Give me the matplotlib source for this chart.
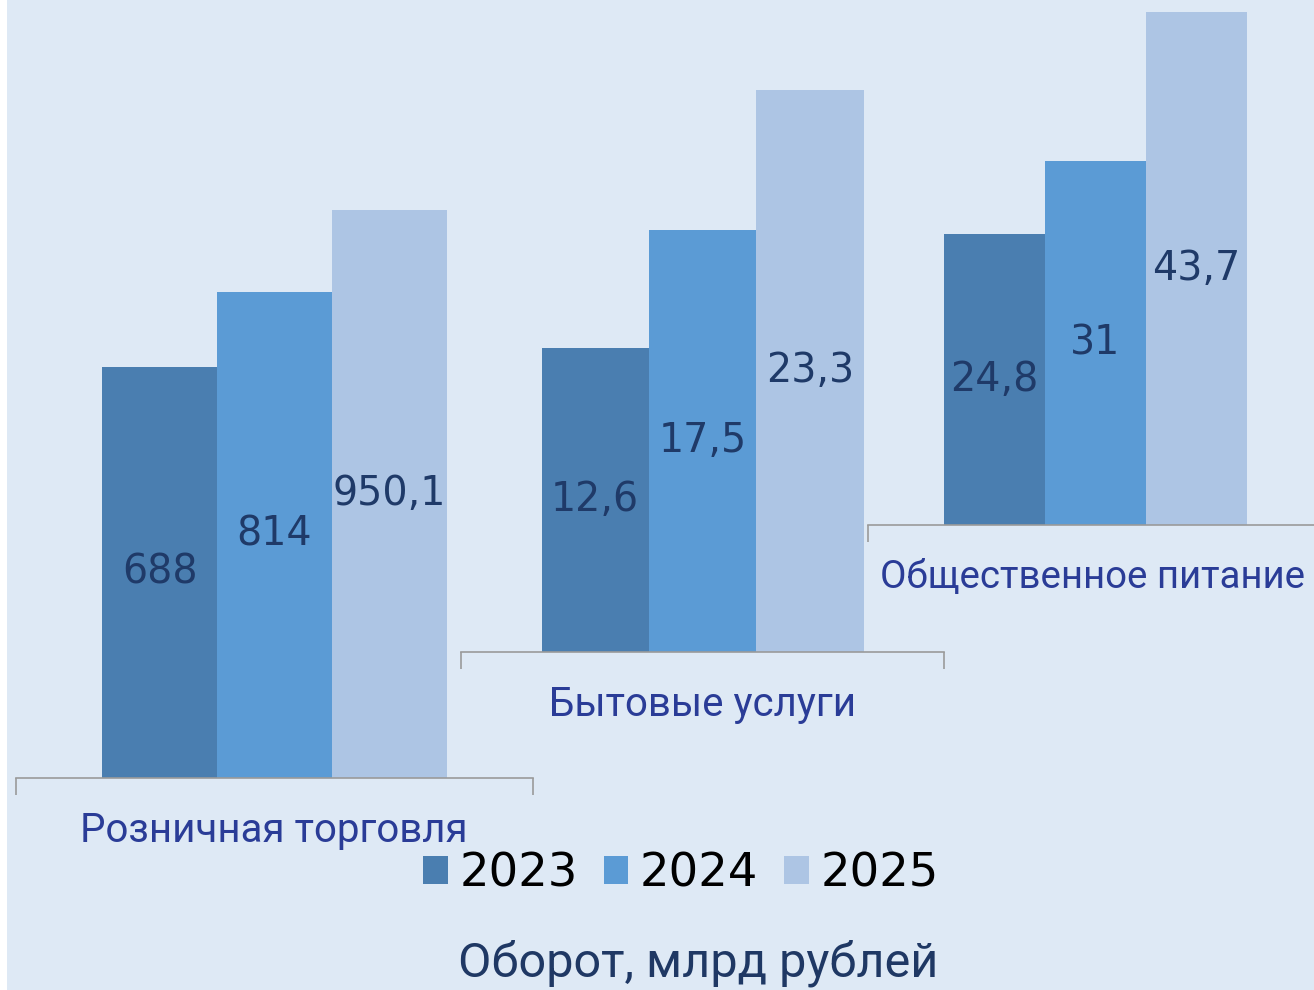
import matplotlib
matplotlib.use("Agg")
import matplotlib.pyplot as plt
from matplotlib.patches import Rectangle

plt.rcParams['font.family'] = ['Roboto', 'DejaVu Sans']

categories = ["Розничная торговля", "Бытовые услуги", "Общественное питание"]
years = ["2023", "2024", "2025"]
values = [
    [688, 814, 950.1],
    [12.6, 17.5, 23.3],
    [24.8, 31, 43.7],
]
value_labels = [
    ["688", "814", "950,1"],
    ["12,6", "17,5", "23,3"],
    ["24,8", "31", "43,7"],
]
title = "Оборот, млрд рублей"

colors = ["#4a7eb0", "#5b9bd5", "#adc5e4"]
bg = "#dee9f5"
W, H = 1314, 990

fig = plt.figure(figsize=(W / 100, H / 100), dpi=100)
fig.patch.set_facecolor("white")
fig.add_artist(Rectangle((7 / W, 0), 1, 1, transform=fig.transFigure,
                         facecolor=bg, edgecolor="none", zorder=-10))

# per-group layout in pixels: left, right, baseline, px per unit, label x centre, label size
layout = [
    (16, 533, 778, 411 / 688, 274, 29),
    (461, 944, 652, 304 / 12.6, 703, 29),
    (868, 1323, 525, 291 / 24.8, 1093, 27.6),
]

digit_font = ['DejaVu Sans']

handles = None
for gi, (l, r, base, ppu, lx, lfs) in enumerate(layout):
    ax = fig.add_axes([l / W, 1 - base / H, (r - l) / W, base / H])
    ax.set_facecolor("none")
    xs = [-1, 0, 1]
    bars = ax.bar(xs, values[gi], width=1.0, color=colors, zorder=2)
    if handles is None:
        handles = list(bars)
    ax.set_ylim(0, base / ppu)
    ax.set_xlim(-2.25, 2.25)
    for x, v, t in zip(xs, values[gi], value_labels[gi]):
        ax.text(x, v / 2, t, ha="center", va="center", fontsize=28.5,
                color="#1f3a68", zorder=3, family=digit_font)
    for s in ["top", "left", "right"]:
        ax.spines[s].set_visible(False)
    ax.spines["bottom"].set_color("#9a9a9a")
    ax.spines["bottom"].set_linewidth(1.2)
    ax.set_yticks([])
    ax.set_xticks([-2.25, 2.25])
    ax.set_xticklabels([])
    ax.tick_params(axis="x", length=12, width=1.2, color="#9a9a9a", direction="out")
    fig.text(lx / W, 1 - (base + 53) / H, categories[gi],
             ha="center", va="center", fontsize=lfs, color="#2a3c97")

leg = fig.legend(handles, years, loc="center", ncol=3,
                 bbox_to_anchor=(681 / W, 1 - 874 / H), frameon=False,
                 prop={'family': digit_font, 'size': 33.5},
                 handlelength=0.53, handleheight=0.53,
                 handletextpad=0.25, columnspacing=0.55, borderpad=0)
for t in leg.get_texts():
    t.set_color("black")

fig.text(698 / W, 1 - 963 / H, title, ha="center", va="center",
         fontsize=35, color="#1f3864")

fig.savefig("out.png", dpi=100, facecolor=fig.get_facecolor())
